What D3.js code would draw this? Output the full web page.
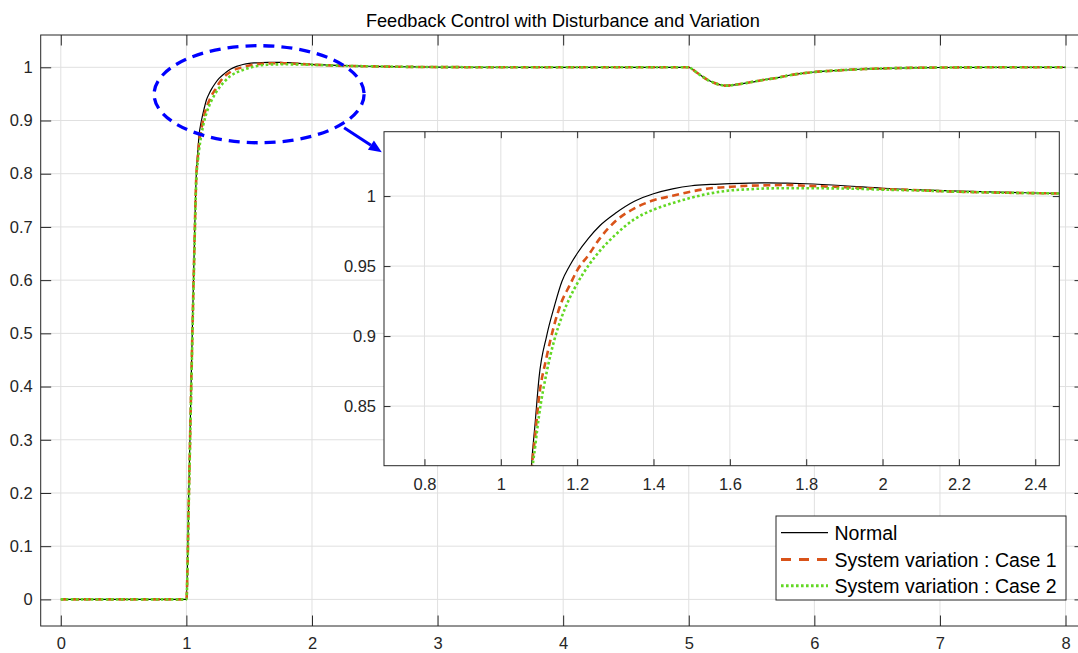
<!DOCTYPE html>
<html>
<head>
<meta charset="utf-8">
<script src="https://cdn.jsdelivr.net/npm/d3@7"></script>
<style>
  body { margin: 0; background: #fff; }
  text { font-family: "Liberation Sans", Helvetica, Arial, sans-serif; }
</style>
</head>
<body>
<div id="chart"></div>
<script>
// time samples (s) and the three responses
const time = [0, 1.0, 1.02, 1.04, 1.06, 1.08, 1.09, 1.10, 1.12, 1.14, 1.16, 1.18, 1.20, 1.23, 1.26, 1.30,
  1.35, 1.40, 1.45, 1.50, 1.55, 1.60, 1.65, 1.70, 1.75, 1.80, 1.90, 2.00, 2.10, 2.20, 2.30, 2.40, 2.50,
  2.70, 3.00, 3.50, 4.00, 4.50, 5.00, 5.05, 5.10, 5.15, 5.20, 5.25, 5.30, 5.35, 5.40, 5.50, 5.60, 5.70,
  5.80, 5.90, 6.00, 6.20, 6.40, 6.60, 6.80, 7.00, 7.50, 8.00];

const normal = [0, 0, 0.21, 0.43, 0.635, 0.805, 0.838, 0.870, 0.900, 0.921, 0.939, 0.950, 0.959, 0.970, 0.979, 0.9877,
  0.9963, 1.0017, 1.0052, 1.0074, 1.0083, 1.0089, 1.0093, 1.0094, 1.0092, 1.0088, 1.0074, 1.0056, 1.0044, 1.0035, 1.0029, 1.0022, 1.0018,
  1.0010, 1.0004, 1.0001, 1.0, 1.0, 1.0, 0.9925, 0.984, 0.9765, 0.971, 0.967, 0.9655, 0.9665, 0.9683, 0.9722, 0.9766, 0.980,
  0.985, 0.9885, 0.9912, 0.9943, 0.9968, 0.9982, 0.9991, 0.9996, 1.0, 1.0];

const case1 = [0, 0, 0.20, 0.42, 0.625, 0.800, 0.829, 0.856, 0.885, 0.908, 0.925, 0.936, 0.947, 0.958, 0.970, 0.982,
  0.9912, 0.997, 1.0002, 1.0033, 1.0056, 1.0066, 1.0074, 1.0077, 1.0079, 1.0074, 1.0063, 1.0051, 1.0041, 1.0031, 1.0025, 1.0021, 1.0017,
  1.0010, 1.0004, 1.0001, 1.0, 1.0, 1.0, 0.9925, 0.984, 0.9765, 0.971, 0.967, 0.9655, 0.9665, 0.9683, 0.9722, 0.9766, 0.980,
  0.985, 0.9885, 0.9912, 0.9943, 0.9968, 0.9982, 0.9991, 0.9996, 1.0, 1.0];

const case2 = [0, 0, 0.19, 0.41, 0.615, 0.795, 0.821, 0.843, 0.874, 0.897, 0.914, 0.927, 0.9375, 0.9505, 0.961, 0.9723,
  0.9835, 0.9903, 0.995, 0.9989, 1.0020, 1.0040, 1.0049, 1.0055, 1.0056, 1.0056, 1.0054, 1.0046, 1.0040, 1.0031, 1.0025, 1.0021, 1.0017,
  1.0010, 1.0004, 1.0001, 1.0, 1.0, 1.0, 0.9925, 0.984, 0.9765, 0.971, 0.967, 0.9655, 0.9665, 0.9683, 0.9722, 0.9766, 0.980,
  0.985, 0.9885, 0.9912, 0.9943, 0.9968, 0.9982, 0.9991, 0.9996, 1.0, 1.0];

const seriesNames = ["Normal", "System variation : Case 1", "System variation : Case 2"];

const mainXTicks = [0, 1, 2, 3, 4, 5, 6, 7, 8];
const mainYTicks = [0, 0.1, 0.2, 0.3, 0.4, 0.5, 0.6, 0.7, 0.8, 0.9, 1];
const insetXTicks = [0.8, 1, 1.2, 1.4, 1.6, 1.8, 2, 2.2, 2.4];
const insetYTicks = [0.85, 0.9, 0.95, 1];

// zoom marker (data units of the main axes)
const ellipseCenter = [1.579, 0.9494];
const ellipseRadius = [0.836, 0.0912];
const arrowFrom = [2.256, 0.8865];
const arrowTo = [2.556, 0.8402];

const W = 1078, H = 653;
const ink = "#262626", gridColor = "#e0e0e0";
const styles = [
  { color: "#000", width: 1.2, dash: null, legendDash: null },
  { color: "#D95319", width: 2.6, dash: "7,4.5", legendDash: "10,8" },
  { color: "#62D823", width: 2.6, dash: "2.6,2.4", legendDash: "2.6,2.4" }
];

const svg = d3.select("#chart").append("svg")
  .attr("width", W).attr("height", H);

// main axes
const box = { left: 40.7, right: 1085, top: 35, bottom: 626 };
const x = d3.scaleLinear().domain([-0.16, 8.155]).range([box.left, box.right]);
const y = d3.scaleLinear().domain([-0.05, 1.0607]).range([box.bottom, box.top]);

// inset axes
const ibox = { left: 384, right: 1059.3, top: 131.7, bottom: 465.7 };
const xi = d3.scaleLinear().domain([0.694, 2.463]).range([ibox.left, ibox.right]);
const yi = d3.scaleLinear().domain([0.8074, 1.046]).range([ibox.bottom, ibox.top]);

const defs = svg.append("defs");
defs.append("clipPath").attr("id", "clipMain").append("rect")
  .attr("x", box.left).attr("y", box.top)
  .attr("width", box.right - box.left).attr("height", box.bottom - box.top);
defs.append("clipPath").attr("id", "clipInset").append("rect")
  .attr("x", ibox.left).attr("y", ibox.top)
  .attr("width", ibox.right - ibox.left).attr("height", ibox.bottom - ibox.top);

const series = [normal, case1, case2].map(vals => vals.map((v, i) => [time[i], v]));

function drawAxes(g, xs, ys, b, xt, yt) {
  g.append("rect")
    .attr("x", b.left).attr("y", b.top)
    .attr("width", b.right - b.left).attr("height", b.bottom - b.top)
    .attr("fill", "#fff");

  // grid
  g.append("g").selectAll("line").data(xt).join("line")
    .attr("x1", d => xs(d)).attr("x2", d => xs(d))
    .attr("y1", b.top).attr("y2", b.bottom)
    .attr("stroke", gridColor).attr("stroke-width", 1);
  g.append("g").selectAll("line").data(yt).join("line")
    .attr("y1", d => ys(d)).attr("y2", d => ys(d))
    .attr("x1", b.left).attr("x2", b.right)
    .attr("stroke", gridColor).attr("stroke-width", 1);
}

function drawFrame(g, xs, ys, b, xt, yt, tickLen, xPad) {
  const fmt = d3.format("~g");
  const bottom = g.append("g").attr("transform", `translate(0,${b.bottom})`)
    .call(d3.axisBottom(xs).tickValues(xt).tickFormat(fmt).tickSize(-tickLen).tickSizeOuter(0).tickPadding(xPad));
  const left = g.append("g").attr("transform", `translate(${b.left},0)`)
    .call(d3.axisLeft(ys).tickValues(yt).tickFormat(fmt).tickSize(-tickLen).tickSizeOuter(0).tickPadding(8));
  const top = g.append("g").attr("transform", `translate(0,${b.top})`)
    .call(d3.axisTop(xs).tickValues(xt).tickFormat("").tickSize(-tickLen).tickSizeOuter(0));
  const right = g.append("g").attr("transform", `translate(${b.right},0)`)
    .call(d3.axisRight(ys).tickValues(yt).tickFormat("").tickSize(-tickLen).tickSizeOuter(0));
  [bottom, left, top, right].forEach(a => {
    a.select(".domain").remove();
    a.selectAll(".tick line").attr("stroke", ink).attr("stroke-width", 1);
    a.selectAll(".tick text").attr("fill", ink).style("font-size", "16.5px")
      .style("font-family", '"Liberation Sans", Helvetica, Arial, sans-serif');
  });
  g.append("rect")
    .attr("x", b.left).attr("y", b.top)
    .attr("width", b.right - b.left).attr("height", b.bottom - b.top)
    .attr("fill", "none").attr("stroke", ink).attr("stroke-width", 1);
}

function drawLines(g, xs, ys, clip) {
  const line = d3.line().x(d => xs(d[0])).y(d => ys(d[1])).curve(d3.curveMonotoneX);
  const lg = g.append("g").attr("clip-path", `url(#${clip})`);
  series.forEach((s, i) => {
    lg.append("path")
      .datum(s)
      .attr("fill", "none")
      .attr("stroke", styles[i].color)
      .attr("stroke-width", styles[i].width)
      .attr("stroke-dasharray", styles[i].dash)
      .attr("stroke-linejoin", "round")
      .attr("d", line);
  });
}

// main plot
const mainG = svg.append("g");
drawAxes(mainG, x, y, box, mainXTicks, mainYTicks);
drawLines(mainG, x, y, "clipMain");
drawFrame(mainG, x, y, box, mainXTicks, mainYTicks, 10.5, 11);

// inset
const insetG = svg.append("g");
drawAxes(insetG, xi, yi, ibox, insetXTicks, insetYTicks);
drawLines(insetG, xi, yi, "clipInset");
drawFrame(insetG, xi, yi, ibox, insetXTicks, insetYTicks, 6.5, 13);

// zoom ellipse and arrow
svg.append("ellipse")
  .attr("cx", x(ellipseCenter[0])).attr("cy", y(ellipseCenter[1]))
  .attr("rx", x(ellipseCenter[0] + ellipseRadius[0]) - x(ellipseCenter[0]))
  .attr("ry", y(ellipseCenter[1] - ellipseRadius[1]) - y(ellipseCenter[1]))
  .attr("fill", "none").attr("stroke", "#0000ff")
  .attr("stroke-width", 3.3).attr("stroke-dasharray", "11,7");

const ax0 = x(arrowFrom[0]), ay0 = y(arrowFrom[1]);
const ax1 = x(arrowTo[0]), ay1 = y(arrowTo[1]);
const ang = Math.atan2(ay1 - ay0, ax1 - ax0);
const headLen = 13, headHalf = 5.5;
const bx = ax1 - headLen * Math.cos(ang), by = ay1 - headLen * Math.sin(ang);
svg.append("line")
  .attr("x1", ax0).attr("y1", ay0).attr("x2", bx).attr("y2", by)
  .attr("stroke", "#0000ff").attr("stroke-width", 3);
svg.append("path")
  .attr("d", d3.line()([
    [ax1, ay1],
    [bx + headHalf * Math.sin(ang), by - headHalf * Math.cos(ang)],
    [bx - headHalf * Math.sin(ang), by + headHalf * Math.cos(ang)]
  ]) + "Z")
  .attr("fill", "#0000ff");

// legend
const leg = { left: 776, top: 516, right: 1066, bottom: 600 };
const legG = svg.append("g");
legG.append("rect")
  .attr("x", leg.left).attr("y", leg.top)
  .attr("width", leg.right - leg.left).attr("height", leg.bottom - leg.top)
  .attr("fill", "#fff").attr("stroke", ink).attr("stroke-width", 1);
const rowY = [532.7, 559.5, 585.7];
seriesNames.forEach((name, i) => {
  legG.append("line")
    .attr("x1", 781).attr("x2", 828)
    .attr("y1", rowY[i]).attr("y2", rowY[i])
    .attr("stroke", styles[i].color)
    .attr("stroke-width", i === 0 ? 1.3 : 3)
    .attr("stroke-dasharray", styles[i].legendDash);
  legG.append("text")
    .attr("x", 834.5).attr("y", rowY[i])
    .attr("dy", "0.36em")
    .style("font-size", "19.5px")
    .attr("fill", "#000")
    .text(name);
});

// title
svg.append("text")
  .attr("x", (box.left + box.right) / 2)
  .attr("y", 27)
  .attr("text-anchor", "middle")
  .style("font-size", "18.2px")
  .attr("fill", "#000")
  .text("Feedback Control with Disturbance and Variation");
</script>
</body>
</html>
